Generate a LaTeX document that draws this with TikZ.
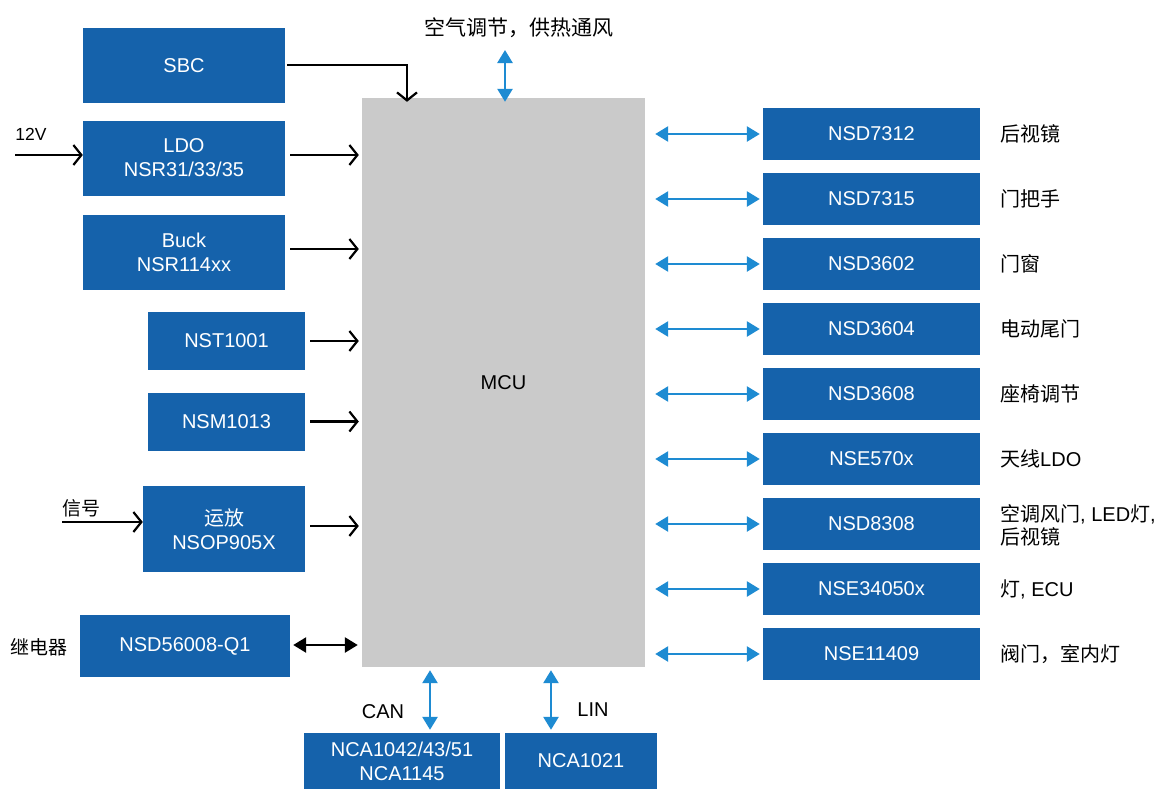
\documentclass[tikz,border=0pt]{standalone}
\usepackage{fontspec}
\setmainfont{Liberation Sans}
\newfontfamily\cjk{Noto Sans CJK SC}
\usetikzlibrary{arrows.meta}
\definecolor{boxblue}{HTML}{1562AB}
\definecolor{arrblue}{HTML}{1E8BD2}
\definecolor{mcugray}{HTML}{CACACA}
\tikzset{
  blk/.style={fill=boxblue, text=white, font=\fontsize{20}{24}\selectfont, inner sep=0pt, align=center},
  lbl/.style={font=\fontsize{20}{24}\selectfont, inner sep=0pt, align=left},
  barrow/.style={line width=2.2pt, -{Straight Barb[length=8pt,width=20pt,line width=2.2pt]}},
  bluearr/.style={arrblue, line width=2.6pt, {Triangle[length=13pt,width=15pt]}-{Triangle[length=13pt,width=15pt]}},
  blkdbl/.style={line width=2.6pt, {Triangle[length=13pt,width=15pt]}-{Triangle[length=13pt,width=15pt]}}
}
\begin{document}
\begin{tikzpicture}[x=1pt,y=-1pt]
\useasboundingbox (0,0) rectangle (1172,788);
\fill[white] (0,0) rectangle (1172,788);
% MCU
\node[fill=mcugray, minimum width=283pt, minimum height=569pt, inner sep=0pt, font=\fontsize{20}{24}\selectfont] (mcu) at (503.5,382.5) {MCU};
% left boxes
\node[blk, minimum width=202pt, minimum height=75pt] (sbc) at (184,65.5) {SBC};
\node[blk, minimum width=202pt, minimum height=75pt] (ldo) at (184,158) {LDO\\NSR31/33/35};
\node[blk, minimum width=202pt, minimum height=75pt] (buck) at (184,252) {Buck\\NSR114xx};
\node[blk, minimum width=157pt, minimum height=58pt] (nst) at (226.5,341) {NST1001};
\node[blk, minimum width=157pt, minimum height=58pt] (nsm) at (226.5,421.5) {NSM1013};
\node[blk, minimum width=162pt, minimum height=86pt] (op) at (224,529) {{\cjk 运放}\\NSOP905X};
\node[blk, minimum width=210pt, minimum height=62pt] (relay) at (185,646) {NSD56008-Q1};
% left input labels
\coordinate (in12) at (15,155);
\node[font=\fontsize{17.5}{20}\selectfont, inner sep=0pt] (l12) at (31,134) {12V};
\coordinate (insig) at (62,522);
\node[font=\cjk\fontsize{19}{22}\selectfont, inner sep=0pt] (lsig) at (81,508) {信号};
\node[font=\cjk\fontsize{19}{22}\selectfont, inner sep=0pt] (lrel) at (39,647) {继电器};
% left arrows
\draw[barrow] (in12) -- (ldo.west |- in12);
\draw[barrow] (insig) -- (op.west |- insig);
\draw[barrow] ([xshift=5pt]ldo.east |- 0,155) -- ([xshift=-3pt]mcu.west |- 0,155);
\draw[barrow] ([xshift=5pt]buck.east |- 0,249) -- ([xshift=-3pt]mcu.west |- 0,249);
\draw[barrow] ([xshift=5pt]nst.east) -- ([xshift=-3pt]mcu.west |- nst.east);
\draw[barrow] ([xshift=5pt]nsm.east) -- ([xshift=-3pt]mcu.west |- nsm.east);
\draw[barrow] ([xshift=5pt]op.east |- 0,526) -- ([xshift=-3pt]mcu.west |- 0,526);
\draw[barrow] ([xshift=2pt]sbc.east |- 0,65) -| ([yshift=-4pt]mcu.north -| 407,0);
\draw[blkdbl, shorten <=3pt, shorten >=4pt] (relay.east |- 0,645) -- (mcu.west |- 0,645);
% top
\node[font=\cjk\fontsize{21}{24}\selectfont, inner sep=0pt] (top) at (519,28) {空气调节，供热通风};
\draw[bluearr] (505,50) -- ([yshift=-4pt]mcu.north -| 505,0);
% right boxes
\foreach \i/\name/\lab in {0/NSD7312/后视镜, 1/NSD7315/门把手, 2/NSD3602/门窗, 3/NSD3604/电动尾门, 4/NSD3608/座椅调节, 5/NSE570x/{天线{\fontspec{Liberation Sans}LDO}}, 7/NSE34050x/{灯{\fontspec{Liberation Sans}, ECU}}, 8/NSE11409/{阀门，室内灯}}{
  \node[blk, minimum width=217pt, minimum height=52pt] (r\i) at (871.5,134+65*\i) {\name};
  \node[lbl, anchor=west, font=\cjk\fontsize{20}{24}\selectfont] (t\i) at (1000,134+65*\i) {\lab};
  \draw[bluearr, shorten <=10pt, shorten >=3pt] (mcu.east |- r\i.west) -- (r\i.west);
}
\node[blk, minimum width=217pt, minimum height=52pt] (r6) at (871.5,524) {NSD8308};
\node[lbl, anchor=west, font=\cjk\fontsize{20}{23}\selectfont] (t6) at (1000,525) {空调风门{\fontspec{Liberation Sans}, LED}灯{\fontspec{Liberation Sans},}\\后视镜};
\draw[bluearr, shorten <=10pt, shorten >=3pt] (mcu.east |- r6.west) -- (r6.west);
% bottom
\node[blk, minimum width=196pt, minimum height=56pt] (can) at (402,761) {NCA1042/43/51\\NCA1145};
\node[blk, minimum width=152pt, minimum height=56pt] (lin) at (581,761) {NCA1021};
\draw[bluearr, shorten <=3pt, shorten >=3pt] (mcu.south -| 430,0) -- (can.north -| 430,0);
\draw[bluearr, shorten <=3pt, shorten >=3pt] (mcu.south -| 551,0) -- (lin.north -| 551,0);
\node[font=\fontsize{20}{24}\selectfont, inner sep=0pt] (lcan) at (383,712) {CAN};
\node[font=\fontsize{20}{24}\selectfont, inner sep=0pt] (llin) at (593,710) {LIN};
\end{tikzpicture}
\end{document}
